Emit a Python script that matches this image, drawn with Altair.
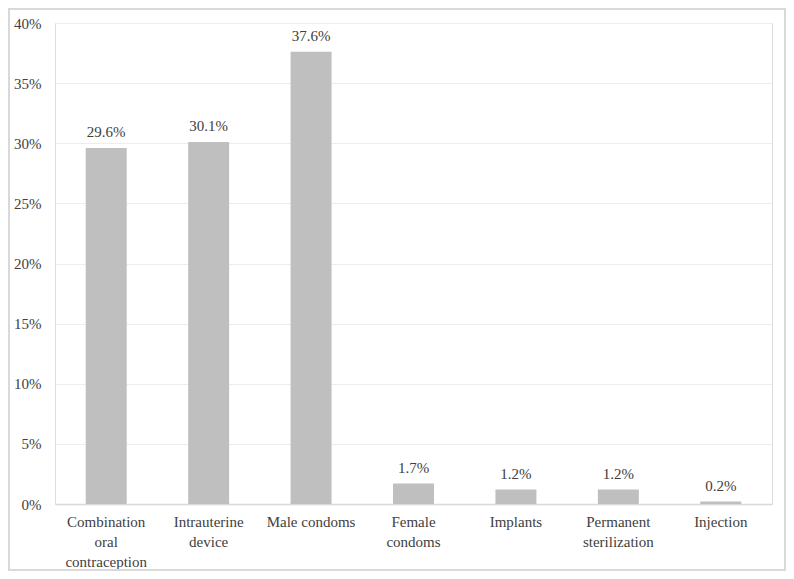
import altair as alt
import pandas as pd

categories = ["Combination|oral|contraception", "Intrauterine|device", "Male condoms",
              "Female|condoms", "Implants", "Permanent|sterilization", "Injection"]
values = [29.6, 30.1, 37.6, 1.7, 1.2, 1.2, 0.2]
y_ticks = [0, 5, 10, 15, 20, 25, 30, 35, 40]

df = pd.DataFrame({"cat": categories, "val": values})
df["lbl"] = [f"{v:.1f}%" for v in values]

W, H = 717, 481
FONT = "Liberation Serif"
TXT = "#404040"

x = alt.X("cat:N", sort=categories, title=None,
          scale=alt.Scale(paddingInner=0.6, paddingOuter=0.3),
          axis=alt.Axis(labelExpr="split(datum.label, '|')", labelAngle=0,
                        labelFont=FONT, labelFontSize=15, labelColor=TXT,
                        labelPadding=10, labelLineHeight=20, labelBaseline="top",
                        ticks=False, domain=True, domainColor="#D9D9D9", domainWidth=1.3,
                        labelLimit=200))
y = alt.Y("val:Q", title=None,
          scale=alt.Scale(domain=[0, 40], nice=False),
          axis=alt.Axis(values=y_ticks, labelExpr="datum.value + '%'",
                        labelFont=FONT, labelFontSize=15, labelColor=TXT,
                        labelPadding=14, ticks=False, domain=False,
                        gridColor="#EDEDED", gridWidth=1))

base = alt.Chart(df)
bars = base.mark_bar(color="#BFBFBF").encode(x=x, y=y)
text = base.mark_text(font=FONT, fontSize=15, color=TXT, baseline="bottom", dy=-8).encode(
    x=alt.X("cat:N", sort=categories), y="val:Q", text="lbl:N")
frame = base.mark_rect(fill=None, stroke="#D9D9D9", strokeWidth=1.5).encode(
    x=alt.value(-46), x2=alt.value(W + 13), y=alt.value(-14), y2=alt.value(H + 66))

chart = alt.layer(frame, bars, text).properties(
    width=W, height=H,
    autosize=alt.AutoSizeParams(type="none"),
    padding={"left": 47, "top": 15, "right": 14, "bottom": 67},
).configure_view(stroke=None).configure(background="white")

chart.save("out.html", embed_options={"renderer": "svg", "actions": False})
